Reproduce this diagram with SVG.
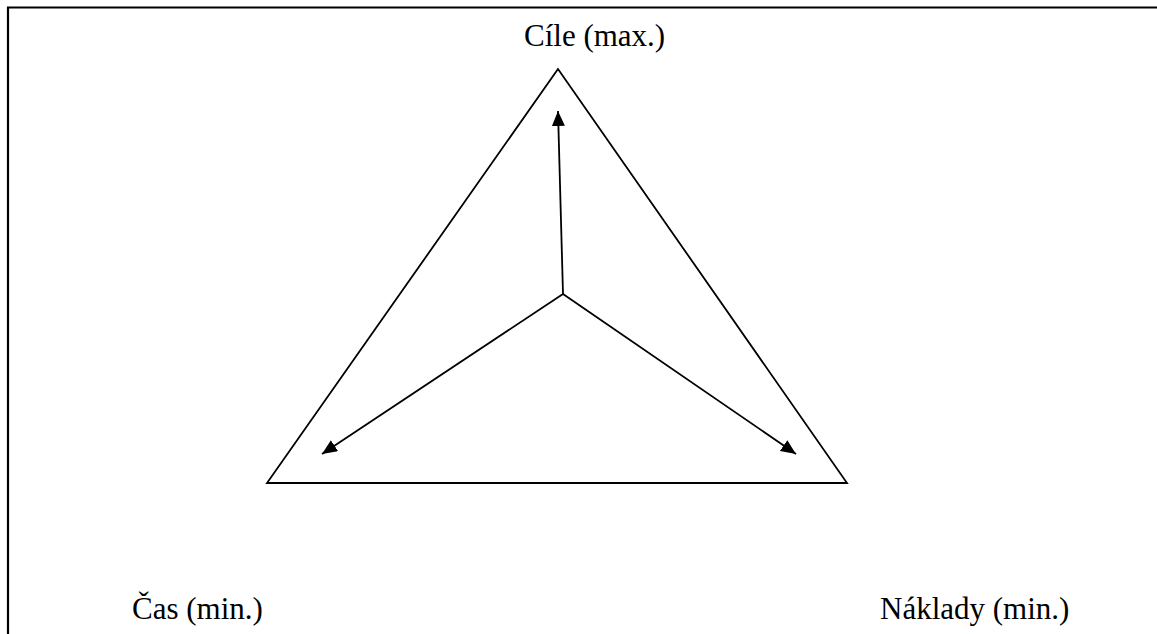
<svg xmlns="http://www.w3.org/2000/svg" width="1157" height="634" viewBox="0 0 1157 634">
<style>
.lbl{font-family:"Liberation Serif","Times New Roman",serif;font-size:31px;fill:#000}
.ln{stroke:#000;stroke-width:1.8;fill:none}
</style>
<defs>
<marker id="ah" markerUnits="userSpaceOnUse" markerWidth="16" markerHeight="14" refX="15" refY="6.5" orient="auto">
<path d="M0,0 L15,6.5 L0,13 z" fill="#000"/>
</marker>
</defs>
<rect width="1157" height="634" fill="#fff"/>
<g id="frame">
<path d="M8,634 V7.5 H1157" stroke="#000" stroke-width="2.2" fill="none"/>
</g>
<g id="triangle">
<path class="ln" d="M558,69 L267,483 L847,483 Z"/>
</g>
<g id="connectors">
<line class="ln" x1="563" y1="294" x2="558" y2="111" marker-end="url(#ah)"/>
<line class="ln" x1="563" y1="294" x2="322" y2="454" marker-end="url(#ah)"/>
<line class="ln" x1="563" y1="294" x2="796" y2="454" marker-end="url(#ah)"/>
</g>
<g id="cile"><text class="lbl" x="524" y="46">Cíle (max.)</text></g>
<g id="cas"><text class="lbl" x="132" y="619">Čas (min.)</text></g>
<g id="naklady"><text class="lbl" x="880" y="619">Náklady (min.)</text></g>
</svg>
